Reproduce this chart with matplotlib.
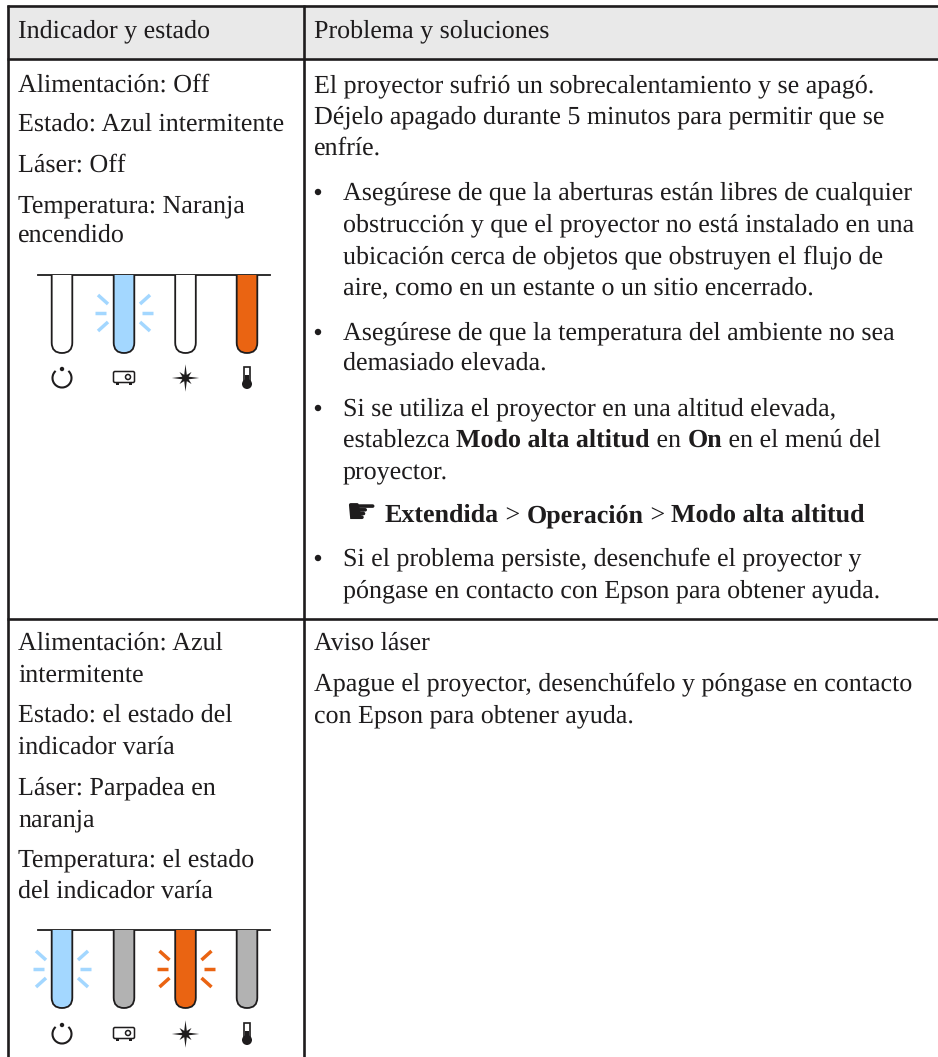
import numpy as np
import matplotlib
matplotlib.use('Agg')
import matplotlib.pyplot as plt
from matplotlib.patches import Rectangle, Circle, Arc, FancyBboxPatch, PathPatch, Polygon
from matplotlib.path import Path

plt.rcParams['text.hinting'] = 'no_hinting'
plt.rcParams['text.hinting_factor'] = 1

header_left = "Indicador y estado"
header_right = "Problema y soluciones"

left_lines = [
    "Alimentación: Off", "Estado: Azul intermitente", "Láser: Off",
    "Temperatura: Naranja", "encendido",
    "Alimentación: Azul", "intermitente", "Estado: el estado del",
    "indicador varía", "Láser: Parpadea en", "naranja",
    "Temperatura: el estado", "del indicador varía",
]
left_y = [92, 131, 172, 212, 242, 650, 682, 722, 754, 794, 826, 866, 898]

# each line is a list of (text, bold) runs
right_lines = [
    [("El proyector sufrió un sobrecalentamiento y se apagó.", False)],
    [("Déjelo apagado durante 5 minutos para permitir que se", False)],
    [("enfríe.", False)],
    [("Asegúrese de que la aberturas están libres de cualquier", False)],
    [("obstrucción y que el proyector no está instalado en una", False)],
    [("ubicación cerca de objetos que obstruyen el flujo de", False)],
    [("aire, como en un estante o un sitio encerrado.", False)],
    [("Asegúrese de que la temperatura del ambiente no sea", False)],
    [("demasiado elevada.", False)],
    [("Si se utiliza el proyector en una altitud elevada,", False)],
    [("establezca ", False), ("Modo alta altitud", True), (" en ", False), ("On", True), (" en el menú del", False)],
    [("proyector.", False)],
    [("Extendida", True), (" > ", False), ("Operación", True), (" > ", False), ("Modo alta altitud", True)],
    [("Si el problema persiste, desenchufe el proyector y", False)],
    [("póngase en contacto con Epson para obtener ayuda.", False)],
    [("Aviso láser", False)],
    [("Apague el proyector, desenchúfelo y póngase en contacto", False)],
    [("con Epson para obtener ayuda.", False)],
]
right_y = [92, 123, 155, 199, 231, 263, 295, 339, 370, 415, 447, 479, 522, 565, 597, 650, 690, 722]
right_x = [314, 314, 314, 343, 343, 343, 343, 343, 343, 343, 343, 343, 385, 343, 343, 314, 314, 314]
bullet_rows = [3, 7, 9, 13]

tube_x = [62, 124, 185.5, 247]
tube_fill_1 = ['white', '#a3d7ff', 'white', '#ea6412']
tube_fill_2 = ['#a3d7ff', '#b2b2b2', '#ea6412', '#b2b2b2']

ink = '#1e1c1d'
font = 'Liberation Serif'
fs = 18.9


def draw_runs(ax, fig, x, y, runs):
    rend = fig.canvas.get_renderer()
    for s, bold in runs:
        t = ax.text(x, y, s, family=font, fontsize=fs, color=ink, va='baseline',
                    ha='left', weight='bold' if bold else 'normal')
        x += t.get_window_extent(rend).width


def tube(ax, cx, top, fill):
    r = 10.3
    bot = top + 78
    v = [(cx - r, top), (cx - r, bot - r), (cx - r, bot), (cx, bot), (cx + r, bot),
         (cx + r, bot - r), (cx + r, top)]
    c = [Path.MOVETO, Path.LINETO, Path.CURVE3, Path.CURVE3, Path.CURVE3, Path.CURVE3, Path.LINETO]
    ax.add_patch(PathPatch(Path(v, c), facecolor=fill, edgecolor=ink, lw=1.3, zorder=3))


def rays(ax, cx, cy, color):
    for sx in (-1, 1):
        ax.plot([cx + sx * 18, cx + sx * 29], [cy, cy], color=color, lw=2.5, solid_capstyle='butt')
        for sy in (-1, 1):
            ax.plot([cx + sx * 16, cx + sx * 26], [cy + sy * 9, cy + sy * 18], color=color,
                    lw=2.5, solid_capstyle='butt')


def icons(ax, cy):
    # power
    ax.add_patch(Arc((62, cy + 1), 19, 19, theta1=-48, theta2=228, color=ink, lw=1.5))
    ax.add_patch(Circle((62, cy - 8), 2.2, color=ink, lw=0))
    # projector
    ax.add_patch(FancyBboxPatch((115, cy - 4), 18, 8, boxstyle='round,pad=1.5', fc='white', ec=ink, lw=1.1))
    ax.add_patch(Circle((128, cy), 2.5, fc='white', ec=ink, lw=1.1))
    ax.add_patch(Rectangle((116, cy + 6), 3, 1.5, color=ink, lw=0))
    ax.add_patch(Rectangle((129, cy + 6), 3, 1.5, color=ink, lw=0))
    # laser star
    n = 16
    pts = []
    for i in range(n):
        a = np.pi * 2 * i / n
        r = (13.7 if i % 4 == 0 else 8.5) if i % 2 == 0 else 3.4
        pts.append((185.5 + r * np.cos(a), cy + 1 + r * np.sin(a)))
    ax.add_patch(Polygon(pts, closed=True, color=ink, lw=0))
    # thermometer
    ax.add_patch(Rectangle((244, cy - 10), 6, 16, fc='white', ec=ink, lw=1.2))
    ax.add_patch(Rectangle((245, cy - 2), 4, 6, color=ink, lw=0))
    ax.add_patch(Circle((247, cy + 7), 5, color=ink, lw=0))


def main():
    fig = plt.figure(figsize=(9.38, 10.57), dpi=100)
    ax = fig.add_axes([0, 0, 1, 1])
    ax.set_xlim(0, 938)
    ax.set_ylim(1057, 0)
    ax.axis('off')
    fig.canvas.draw()

    ax.add_patch(Rectangle((7, 5), 931, 53, color='#e9e9e9', lw=0, zorder=0))
    for y in (5.5, 58.5, 618.5):
        ax.plot([7, 938], [y, y], color=ink, lw=1.9, solid_capstyle='butt')
    for x in (7.5, 304):
        ax.plot([x, x], [5, 1057], color=ink, lw=1.9, solid_capstyle='butt')

    draw_runs(ax, fig, 18, 37, [(header_left, False)])
    draw_runs(ax, fig, 314, 37, [(header_right, False)])
    for s, y in zip(left_lines, left_y):
        draw_runs(ax, fig, 18, y, [(s, False)])
    for i, (runs, y, x) in enumerate(zip(right_lines, right_y, right_x)):
        draw_runs(ax, fig, x, y, runs)
        if i in bullet_rows:
            ax.add_patch(Circle((318, y - 7), 3.2, color=ink, lw=0))
    ax.text(345, right_y[12] + 1, "\u261b", family='DejaVu Sans', fontsize=25, color=ink, va='baseline', ha='left')

    for top, fills, ray_y, icon_y in ((275, tube_fill_1, 313, 377), (930, tube_fill_2, 969, 1033)):
        ax.plot([38, 270], [top, top], color=ink, lw=1.3)
        for cx, f in zip(tube_x, fills):
            tube(ax, cx, top, f)
            if f in ('#a3d7ff', '#ea6412'):
                if top == 930 or f == '#a3d7ff':
                    rays(ax, cx, ray_y, f)
        icons(ax, icon_y)

    fig.savefig('out.png', dpi=100)


if __name__ == '__main__':
    main()
